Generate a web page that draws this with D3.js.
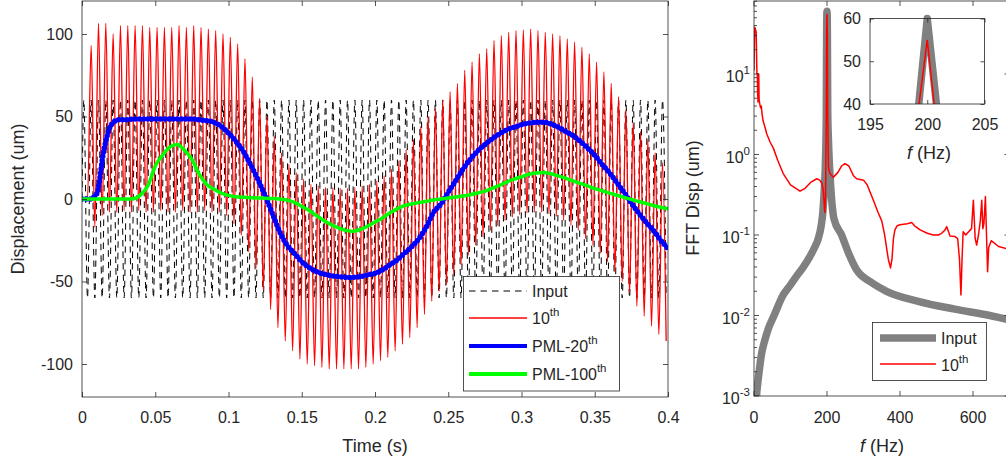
<!DOCTYPE html>
<html>
<head>
<meta charset="utf-8">
<script src="https://cdn.jsdelivr.net/npm/d3@7"></script>
<style>
  body { margin: 0; background: #fff; }
  svg text { font-family: "Liberation Sans", Arial, sans-serif; fill: #262626; }
  .axis path { display: none; }
  .axis line { stroke: #262626; stroke-width: 0.8; }
  .axis text { font-size: 16px; }
</style>
</head>
<body>
<svg id="chart" width="1006" height="463"></svg>
<script>
// ---- time signals: one value per half cycle (peak, trough) of the 200 Hz carrier
const inputPeaks = [
  60, 60, 60, 60, 60, 60, 60, 60, 60, 60, 60, 60, 60, 60, 60, 60, 60, 60, 60, 60,
  60, 60, 60, 60, 60, 60, 60, 60, 60, 60, 60, 60, 60, 60, 60, 60, 60, 60, 60, 60,
  60, 60, 60, 60, 60, 60, 60, 60, 60, 60, 60, 60, 60, 60, 60, 60, 60, 60, 60, 60,
  60, 60, 60, 60, 60, 60, 60, 60, 60, 60, 60, 60, 60, 60, 60, 60, 60, 60, 60, 60
];
const inputTroughs = [
  -60, -60, -60, -60, -60, -60, -60, -60, -60, -60, -60, -60, -60, -60, -60, -60, -60, -60, -60, -60,
  -60, -60, -60, -60, -60, -60, -60, -60, -60, -60, -60, -60, -60, -60, -60, -60, -60, -60, -60, -60,
  -60, -60, -60, -60, -60, -60, -60, -60, -60, -60, -60, -60, -60, -60, -60, -60, -60, -60, -60, -60,
  -60, -60, -60, -60, -60, -60, -60, -60, -60, -60, -60, -60, -60, -60, -60, -60, -60, -60, -60, -60
];
const redPeaks = [
  0, 93, 106.5, 106.5, 100, 105, 105, 105, 105, 104, 104, 104, 104, 105, 104, 105, 104, 103, 102, 100,
  98, 94, 85, 74, 61, 50, 38, 28, 21, 16, 12, 9, 8, 7, 7, 6.5, 6.5, 7, 8, 9,
  11, 14, 18, 23, 30, 36, 44, 50, 55, 60, 65, 70, 78, 83, 88, 91, 96, 99, 101, 102,
  102.5, 103, 102, 101, 100, 99, 97, 95, 92, 88, 83, 77, 70, 62, 54, 46, 41, 36, 28, 22
];
const redTroughs = [
  0, -17, -10, -8, -8, -7, -8, -7, -8, -8, -7, -8, -8, -7, -8, -8, -7, -8, -8, -10,
  -15, -22, -32, -42, -55, -67, -78, -86, -92, -97, -100, -101, -102, -103, -103, -103, -103, -103, -102, -100,
  -98, -96, -92, -88, -84, -78, -70, -62, -56, -52, -46, -40, -34, -28, -23, -19, -16, -13, -11, -9.5,
  -8.5, -8, -8, -9, -10.5, -13, -16, -19, -24, -28, -33, -38, -44, -50, -57, -65, -71, -77, -82, -86
];
// PML responses, sampled every 5 ms from 0 to 0.4 s
const pml20 = [
  0, 0, 3, 30, 45, 48, 48, 48.5, 48.5, 48.5, 48.5, 48.5, 48.5, 48.5, 48.5, 48.5, 48, 47.5, 46.5, 44,
  40, 35, 29, 21, 12, 2, -9, -20, -28, -33, -38, -41.5, -44, -45.5, -46.5, -47, -47.5, -47.5, -47, -46,
  -45, -43, -40, -37, -33, -29, -24, -17, -8, -3, 4, 11, 18, 24, 29, 33, 36.5, 39.5, 42, 43.5,
  45, 46, 46.5, 46.5, 45.5, 43.5, 41, 38.5, 35, 31, 26.5, 21, 16, 10, 4, -2.5, -8.5, -14, -19, -25,
  -30
];
const pml100 = [
  0, 0, 0, 0, 0, 0, 0, 0.2, 2.5, 8, 20, 26.5, 31.5, 33, 29.5, 24, 15, 9, 6, 3.5,
  2.2, 1.4, 1, 0.8, 0.6, 0.5, 0.3, 0, -0.7, -2, -4.5, -7, -10, -13, -15.5, -17.5, -19, -19.5, -18.5, -16.5,
  -14, -11.5, -8.5, -6, -4, -3, -2.2, -1.4, -0.6, 0, 0.6, 1.2, 1.8, 2.6, 3.6, 4.8, 6.5, 8.3, 10.3, 12,
  13.5, 15, 15.8, 16, 15.3, 14, 12.7, 11, 9.5, 8, 6.3, 5, 3.6, 2.3, 1, -0.3, -1.5, -2.7, -3.9, -5,
  -6
];

// ---- spectra
const fftInputFreq = [5, 7, 10, 14, 21, 30, 40, 55, 80, 100, 117, 135, 153, 166, 176, 184, 189, 193, 196, 198,
  199, 200, 201, 202, 204, 207, 211, 219, 240, 260, 281, 320, 363, 450, 550, 646, 700];
const fftInputAmp = [0.0006, 0.001, 0.0014, 0.002, 0.0034, 0.005, 0.007, 0.01, 0.018, 0.024, 0.031, 0.04, 0.054, 0.07, 0.09, 0.13, 0.2, 0.4, 0.9, 3,
  33, 60, 35, 3.5, 1.5, 0.7, 0.35, 0.16, 0.1, 0.058, 0.037, 0.026, 0.02, 0.015, 0.012, 0.01, 0.0088];

const fftRedFreq = [0, 2, 4, 6, 8, 9, 10, 11, 12, 13, 14, 16, 18, 20, 22, 25, 30, 35, 45, 53,
  65, 80, 100, 126, 140, 155, 172, 180, 186, 190, 194, 196, 198, 199, 200, 201, 202, 204, 208, 217,
  230, 240, 249, 260, 272, 281, 300, 310, 327, 340, 350, 358, 363, 368, 374, 378, 382, 386, 392, 400,
  420, 432, 440, 455, 475, 491, 505, 514, 523, 528, 533, 537, 550, 558, 563, 567, 570, 573, 580, 588,
  596, 601, 606, 610, 615, 620, 624, 627, 630, 634, 637, 640, 643, 650, 670, 700];
const fftRedAmp = [11, 38, 36, 33, 10, 10, 6, 4.5, 10, 10, 4.8, 4.2, 3.8, 4, 3.2, 2.6, 2.2, 1.8, 1.4, 1.2,
  0.85, 0.58, 0.42, 0.35, 0.38, 0.45, 0.5, 0.48, 0.44, 0.35, 0.19, 0.3, 3, 34, 55, 30, 3, 0.7, 0.58, 0.52,
  0.6, 0.72, 0.77, 0.72, 0.55, 0.5, 0.48, 0.42, 0.27, 0.19, 0.15, 0.1, 0.07, 0.05, 0.039, 0.05, 0.09, 0.116, 0.13, 0.134,
  0.138, 0.143, 0.13, 0.116, 0.105, 0.1, 0.1, 0.105, 0.115, 0.127, 0.11, 0.097, 0.096, 0.09, 0.05, 0.018, 0.05, 0.11, 0.1, 0.11,
  0.12, 0.27, 0.09, 0.075, 0.1, 0.15, 0.27, 0.12, 0.14, 0.3, 0.1, 0.035, 0.07, 0.085, 0.072, 0.066];

const timeTicks = [0, 0.05, 0.1, 0.15, 0.2, 0.25, 0.3, 0.35, 0.4];
const dispTicks = [-100, -50, 0, 50, 100];
const freqTicks = [0, 200, 400, 600];
const decadeTicks = [-3, -2, -1, 0, 1];
const insetFreqTicks = [195, 200, 205];
const insetAmpTicks = [40, 50, 60];

const svg = d3.select('#chart');
const axisColor = '#262626';
const plainNum = d => String(d);   // hyphen minus like the original, not U+2212

// ======================= left panel =======================
const xT = d3.scaleLinear().domain([0, 0.4]).range([82, 668]);
const yT = d3.scaleLinear().domain([-120, 120]).range([397, 1]);

svg.append('clipPath').attr('id', 'clipL')
  .append('rect').attr('x', 82).attr('y', 1).attr('width', 586).attr('height', 396);

function halfCycles(peaks, troughs) {
  const pts = [[0, 0]];
  peaks.forEach((p, k) => {
    pts.push([0.00125 + 0.005 * k, p]);
    pts.push([0.00375 + 0.005 * k, troughs[k]]);
  });
  return pts;
}
const pmlPoints = vals => vals.map((v, i) => [i * 0.005, v]);

const lineT = d3.line().x(d => xT(d[0])).y(d => yT(d[1])).curve(d3.curveMonotoneX);

const gL = svg.append('g').attr('clip-path', 'url(#clipL)');

gL.append('path')
  .attr('d', lineT(halfCycles(inputPeaks, inputTroughs)))
  .attr('fill', 'none').attr('stroke', '#000').attr('stroke-width', 1)
  .attr('stroke-dasharray', '6.5,5');

gL.append('path')
  .attr('d', lineT(halfCycles(redPeaks, redTroughs)))
  .attr('fill', 'none').attr('stroke', '#ff0000').attr('stroke-width', 1.3);

const bluePath = lineT(pmlPoints(pml20));
gL.append('path')
  .attr('d', bluePath)
  .attr('fill', 'none').attr('stroke', '#0000ff').attr('stroke-width', 3.5)
  .attr('stroke-linejoin', 'round');
gL.append('path')
  .attr('d', bluePath)
  .attr('fill', 'none').attr('stroke', '#0000ff').attr('stroke-width', 5.5)
  .attr('stroke-linecap', 'round').attr('stroke-dasharray', '0,4.2');

gL.append('path')
  .attr('d', lineT(pmlPoints(pml100)))
  .attr('fill', 'none').attr('stroke', '#00ff00').attr('stroke-width', 3.5)
  .attr('stroke-linejoin', 'round');

// axes (ticks point inward)
svg.append('g').attr('class', 'axis').attr('transform', 'translate(0,397)')
  .call(d3.axisBottom(xT).tickValues(timeTicks).tickSize(-5).tickSizeOuter(0).tickPadding(15)
    .tickFormat(plainNum));
svg.append('g').attr('class', 'axis').attr('transform', 'translate(0,1)')
  .call(d3.axisTop(xT).tickValues(timeTicks).tickSize(-5).tickSizeOuter(0).tickFormat(''));
svg.append('g').attr('class', 'axis').attr('transform', 'translate(82,0)')
  .call(d3.axisLeft(yT).tickValues(dispTicks).tickSize(-5).tickSizeOuter(0).tickPadding(9)
    .tickFormat(plainNum));
svg.append('g').attr('class', 'axis').attr('transform', 'translate(668,0)')
  .call(d3.axisRight(yT).tickValues(dispTicks).tickSize(-5).tickSizeOuter(0).tickFormat(''));

svg.append('rect').attr('x', 82).attr('y', 1).attr('width', 586).attr('height', 396)
  .attr('fill', 'none').attr('stroke', axisColor).attr('stroke-width', 0.8);

svg.append('text').attr('x', 375).attr('y', 452).attr('text-anchor', 'middle')
  .attr('font-size', 18).text('Time (s)');
svg.append('text').attr('transform', 'translate(24,199) rotate(-90)').attr('text-anchor', 'middle')
  .attr('font-size', 18).text('Displacement (um)');

// legend
const legL = svg.append('g');
legL.append('rect').attr('x', 463.5).attr('y', 276.5).attr('width', 156).attr('height', 114.5)
  .attr('fill', '#fff').attr('stroke', axisColor).attr('stroke-width', 0.8);
const legItems = [
  { y: 291, label: 'Input', sup: '', color: '#000', width: 1, dash: '6.5,5' },
  { y: 318, label: '10', sup: 'th', color: '#ff0000', width: 1.3, dash: null },
  { y: 346, label: 'PML-20', sup: 'th', color: '#0000ff', width: 4, dash: null },
  { y: 374, label: 'PML-100', sup: 'th', color: '#00ff00', width: 4, dash: null }
];
legItems.forEach(it => {
  legL.append('line').attr('x1', 469).attr('x2', 527).attr('y1', it.y).attr('y2', it.y)
    .attr('stroke', it.color).attr('stroke-width', it.width)
    .attr('stroke-dasharray', it.dash);
  const t = legL.append('text').attr('x', 532).attr('y', it.y + 6).attr('font-size', 16).text(it.label);
  if (it.sup) t.append('tspan').attr('dy', -8).attr('font-size', 11.5).text(it.sup);
});

// ======================= right panel =======================
const xF = d3.scaleLinear().domain([0, 700]).range([754, 1009.5]);
const yF = d3.scaleLog().domain([1e-3, 80.7]).range([396, 1]);

svg.append('clipPath').attr('id', 'clipR')
  .append('rect').attr('x', 754).attr('y', 1).attr('width', 255.5).attr('height', 395);

const lineF = d3.line().x(d => xF(d[0])).y(d => yF(d[1]));
const lineFSmooth = d3.line().x(d => xF(d[0])).y(d => yF(d[1])).curve(d3.curveMonotoneX);
const gR = svg.append('g').attr('clip-path', 'url(#clipR)');

gR.append('path')
  .attr('d', lineFSmooth(fftInputFreq.map((f, i) => [f, fftInputAmp[i]])))
  .attr('fill', 'none').attr('stroke', '#808080').attr('stroke-width', 7.5)
  .attr('stroke-linejoin', 'round');
gR.append('path')
  .attr('d', lineF(fftRedFreq.map((f, i) => [f, fftRedAmp[i]])))
  .attr('fill', 'none').attr('stroke', '#ff0000').attr('stroke-width', 1.5)
  .attr('stroke-linejoin', 'round');

// ticks
const gRA = svg.append('g').attr('stroke', axisColor).attr('stroke-width', 0.8);
freqTicks.concat([800]).forEach(f => {
  gRA.append('line').attr('x1', xF(f)).attr('x2', xF(f)).attr('y1', 396).attr('y2', 391);
  gRA.append('line').attr('x1', xF(f)).attr('x2', xF(f)).attr('y1', 1).attr('y2', 6);
});
decadeTicks.forEach(n => {
  const y = yF(Math.pow(10, n));
  gRA.append('line').attr('x1', 754).attr('x2', 759).attr('y1', y).attr('y2', y);
  gRA.append('line').attr('x1', 1009.5).attr('x2', 1004.5).attr('y1', y).attr('y2', y);
  for (let m = 2; m <= 9; m++) {
    const v = m * Math.pow(10, n);
    if (v > 80.7) break;
    const ym = yF(v);
    gRA.append('line').attr('x1', 754).attr('x2', 757).attr('y1', ym).attr('y2', ym);
    gRA.append('line').attr('x1', 1009.5).attr('x2', 1006.5).attr('y1', ym).attr('y2', ym);
  }
});
svg.append('rect').attr('x', 754).attr('y', 1).attr('width', 255.5).attr('height', 395)
  .attr('fill', 'none').attr('stroke', axisColor).attr('stroke-width', 0.8);

freqTicks.forEach(f => {
  svg.append('text').attr('x', xF(f)).attr('y', 422.5).attr('text-anchor', 'middle')
    .attr('font-size', 16).text(f);
});
decadeTicks.forEach(n => {
  const t = svg.append('text').attr('x', 750).attr('y', yF(Math.pow(10, n)) + 8)
    .attr('text-anchor', 'end').attr('font-size', 16).text('10');
  t.append('tspan').attr('dy', -8).attr('font-size', 11.5).text(String(n));
});

const fLabel = svg.append('text').attr('x', 882).attr('y', 452).attr('text-anchor', 'middle').attr('font-size', 18);
fLabel.append('tspan').attr('font-style', 'italic').text('f');
fLabel.append('tspan').text(' (Hz)');
svg.append('text').attr('transform', 'translate(699,198) rotate(-90)').attr('text-anchor', 'middle')
  .attr('font-size', 18).text('FFT Disp (um)');

// legend
const legR = svg.append('g');
legR.append('rect').attr('x', 872.5).attr('y', 322.5).attr('width', 114).attr('height', 58)
  .attr('fill', '#fff').attr('stroke', axisColor).attr('stroke-width', 0.8);
legR.append('line').attr('x1', 880).attr('x2', 936).attr('y1', 338).attr('y2', 338)
  .attr('stroke', '#808080').attr('stroke-width', 7.5);
legR.append('text').attr('x', 941).attr('y', 344).attr('font-size', 16).text('Input');
legR.append('line').attr('x1', 880).attr('x2', 936).attr('y1', 364).attr('y2', 364)
  .attr('stroke', '#ff0000').attr('stroke-width', 1.5);
const legR2 = legR.append('text').attr('x', 941).attr('y', 371).attr('font-size', 16).text('10');
legR2.append('tspan').attr('dy', -8).attr('font-size', 11.5).text('th');

// ======================= inset =======================
const xI = d3.scaleLinear().domain([195, 205]).range([870, 984.5]);
const yI = d3.scaleLinear().domain([40, 60]).range([104, 18.5]);

svg.append('rect').attr('x', 870).attr('y', 18.5).attr('width', 114.5).attr('height', 85.5)
  .attr('fill', '#fff');
svg.append('clipPath').attr('id', 'clipI')
  .append('rect').attr('x', 870).attr('y', 5).attr('width', 114.5).attr('height', 99);
const lineI = d3.line().x(d => xI(d[0])).y(d => yI(d[1]));
const gI = svg.append('g').attr('clip-path', 'url(#clipI)');
gI.append('path')
  .attr('d', lineI(fftInputFreq.map((f, i) => [f, fftInputAmp[i]])))
  .attr('fill', 'none').attr('stroke', '#808080').attr('stroke-width', 7.5)
  .attr('stroke-linejoin', 'round');
gI.append('path')
  .attr('d', lineI(fftRedFreq.map((f, i) => [f, fftRedAmp[i]])))
  .attr('fill', 'none').attr('stroke', '#ff0000').attr('stroke-width', 1.5);

svg.append('g').attr('class', 'axis').attr('transform', 'translate(0,104)')
  .call(d3.axisBottom(xI).tickValues(insetFreqTicks).tickSize(-4).tickSizeOuter(0).tickPadding(15));
svg.append('g').attr('class', 'axis').attr('transform', 'translate(0,18.5)')
  .call(d3.axisTop(xI).tickValues(insetFreqTicks).tickSize(-4).tickSizeOuter(0).tickFormat(''));
svg.append('g').attr('class', 'axis').attr('transform', 'translate(870,0)')
  .call(d3.axisLeft(yI).tickValues(insetAmpTicks).tickSize(-4).tickSizeOuter(0).tickPadding(9));
svg.append('g').attr('class', 'axis').attr('transform', 'translate(984.5,0)')
  .call(d3.axisRight(yI).tickValues(insetAmpTicks).tickSize(-4).tickSizeOuter(0).tickFormat(''));
svg.append('rect').attr('x', 870).attr('y', 18.5).attr('width', 114.5).attr('height', 85.5)
  .attr('fill', 'none').attr('stroke', axisColor).attr('stroke-width', 0.8);

const fI = svg.append('text').attr('x', 929).attr('y', 159).attr('text-anchor', 'middle').attr('font-size', 18);
fI.append('tspan').attr('font-style', 'italic').text('f');
fI.append('tspan').text(' (Hz)');
</script>
</body>
</html>
